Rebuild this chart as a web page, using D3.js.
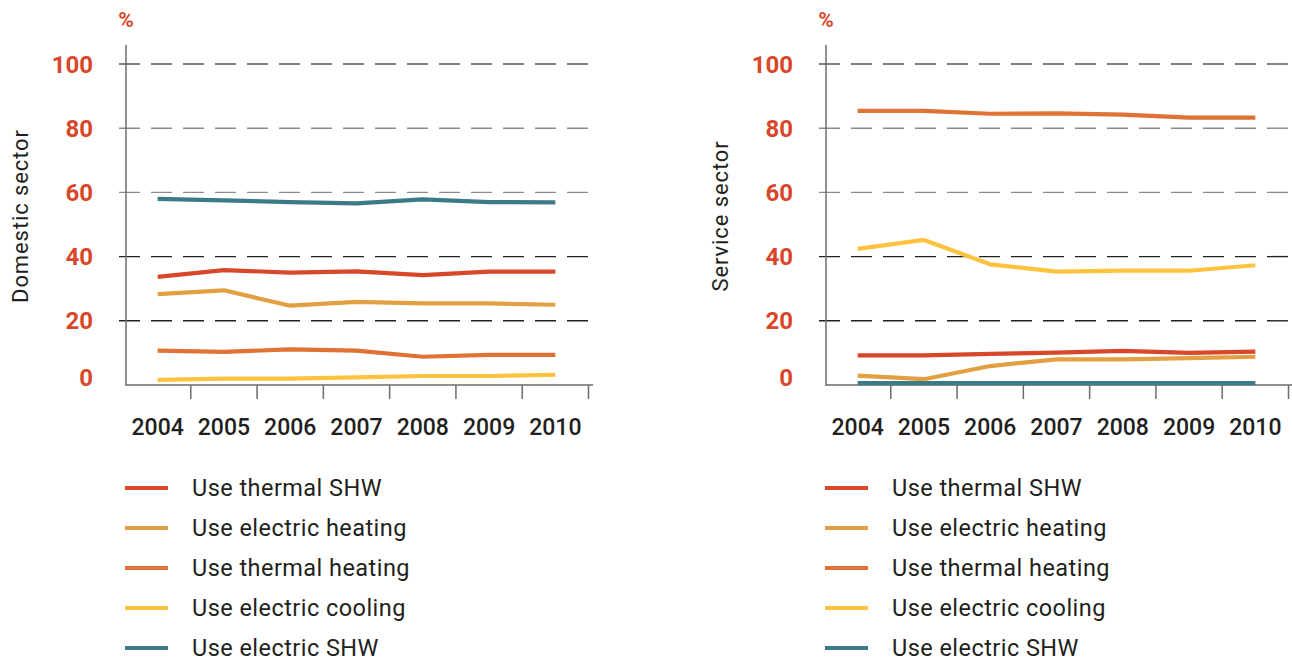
<!DOCTYPE html>
<html><head><meta charset="utf-8">
<script src="https://cdn.jsdelivr.net/npm/d3@7"></script>
<style>
body{margin:0;background:#fff;}
svg{display:block;font-family:Roboto,"Liberation Sans",sans-serif;}
</style></head>
<body><svg id="c" width="1292" height="661"></svg>
<script>
const years = ["2004","2005","2006","2007","2008","2009","2010"];
const yTicks = [0,20,40,60,80,100];
const seriesNames = ["Use thermal SHW","Use electric heating","Use thermal heating","Use electric cooling","Use electric SHW"];
const seriesColors = ["#d9472b","#e3a042","#e07236","#fdc33f","#3b7b88"];
const panelTitles = ["Domestic sector","Service sector"];

// Domestic sector (%)
const domThermalSHW   = [33.7,35.8,35.0,35.4,34.2,35.3,35.3];
const domElecHeating  = [28.3,29.5,24.7,25.9,25.4,25.4,25.0];
const domThermalHeat  = [10.7,10.3,11.1,10.7,8.8,9.4,9.4];
const domElecCooling  = [1.6,2.0,2.0,2.4,2.8,2.8,3.2];
const domElecSHW      = [58.0,57.5,57.0,56.6,57.8,57.0,56.9];

// Service sector (%)
const srvThermalSHW   = [9.2,9.2,9.7,10.1,10.6,10.0,10.4];
const srvElecHeating  = [2.9,1.8,5.9,8.0,8.0,8.4,8.8];
const srvThermalHeat  = [85.4,85.4,84.5,84.6,84.2,83.3,83.3];
const srvElecCooling  = [42.4,45.2,37.6,35.3,35.6,35.6,37.3];
const srvElecSHW      = [0.6,0.6,0.6,0.6,0.6,0.6,0.6];

const panels = [
  {dx:0, title:panelTitles[0], series:[domThermalSHW,domElecHeating,domThermalHeat,domElecCooling,domElecSHW]},
  {dx:700, title:panelTitles[1], series:[srvThermalSHW,srvElecHeating,srvThermalHeat,srvElecCooling,srvElecSHW]}
];

const svg = d3.select("#c");
const RED = "#d9472b", TXT = "#231f20", AX = "#6b6b6b";
const gridColor = v => (v===20||v===40) ? "#222" : (v===100 ? "#555" : "#8a8a8a");

panels.forEach(p => {
  const g = svg.append("g").attr("transform", `translate(${p.dx},0)`);
  const x = d3.scaleBand().domain(years).range([124.5, 588.5]).padding(0);
  const y = d3.scaleLinear().domain([0,100]).range([385,64]);

  // gridlines
  g.selectAll("line.grid").data(yTicks.filter(v=>v>0)).join("line")
    .attr("x1",112).attr("x2",590).attr("y1",d=>y(d)).attr("y2",d=>y(d))
    .attr("stroke",d=>gridColor(d)).attr("stroke-width",1.4)
    .attr("stroke-dasharray","21,11").attr("stroke-dashoffset",-7);

  // y axis line
  g.append("line").attr("x1",126).attr("x2",126).attr("y1",45).attr("y2",385.5)
    .attr("stroke",AX).attr("stroke-width",1.5);

  // x axis
  const xAxis = d3.axisBottom(x).tickSize(0).tickPadding(0).tickFormat("");
  const ax = g.append("g").attr("transform","translate(0,385)").call(xAxis);
  ax.select(".domain").remove();
  g.append("line").attr("x1",125.5).attr("x2",593).attr("y1",385).attr("y2",385)
    .attr("stroke",AX).attr("stroke-width",1.5);
  g.selectAll("line.xt").data(years).join("line")
    .attr("x1",d=>x(d)+x.bandwidth()).attr("x2",d=>x(d)+x.bandwidth())
    .attr("y1",385).attr("y2",399).attr("stroke",AX).attr("stroke-width",1.5);
  g.selectAll("text.xl").data(years).join("text")
    .attr("x",d=>x(d)+x.bandwidth()/2).attr("y",435)
    .attr("text-anchor","middle").attr("fill",TXT)
    .attr("font-size",23).attr("font-weight",500).text(d=>d);

  // y tick labels
  g.selectAll("text.yl").data(yTicks).join("text")
    .attr("x",93).attr("y",d=>y(d)+(d===0?1:8.5))
    .attr("text-anchor","end").attr("fill",RED)
    .attr("font-size",24).attr("font-weight",700).text(d=>d);
  g.append("text").attr("x",126).attr("y",27).attr("text-anchor","middle")
    .attr("fill",RED).attr("font-size",21).attr("font-weight",700).text("%");

  // y title
  g.append("text").attr("transform",`translate(28,216) rotate(-90)`)
    .attr("text-anchor","middle").attr("fill",TXT).attr("font-size",22)
    .attr("letter-spacing",0.9)
    .text(p.title);

  // lines
  const line = d3.line().x((d,i)=>x(years[i])+x.bandwidth()/2).y(d=>y(d));
  const order = [4,0,1,2,3];
  order.forEach(si => {
    g.append("path").datum(p.series[si]).attr("d",line)
      .attr("fill","none").attr("stroke",seriesColors[si]).attr("stroke-width",4.2)
      .attr("stroke-linejoin","round");
  });

  // legend
  const lg = g.selectAll("g.lg").data(seriesNames).join("g")
    .attr("transform",(d,i)=>`translate(0,${488+i*40})`);
  lg.append("line").attr("x1",125).attr("x2",168).attr("y1",0).attr("y2",0)
    .attr("stroke",(d,i)=>seriesColors[i]).attr("stroke-width",4.2);
  lg.append("text").attr("x",192).attr("y",8).attr("fill",TXT)
    .attr("font-size",23.5).attr("letter-spacing",0.45).text(d=>d);
});
</script></body></html>
